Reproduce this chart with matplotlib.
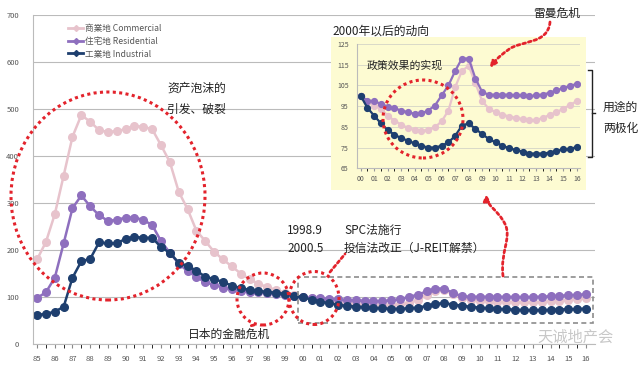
import numpy as np
import matplotlib
matplotlib.use("Agg")
import matplotlib.pyplot as plt
from matplotlib.patches import Ellipse, Rectangle, FancyArrowPatch
from matplotlib.path import Path
from matplotlib.lines import Line2D

plt.rcParams['font.family'] = ['Noto Sans CJK SC', 'DejaVu Sans']

# ---------------- data (semiannual, 1985.0 .. 2016.0) ----------------
years = np.arange(1985.0, 2016.01, 0.5)

commercial_pre = [180, 217, 276, 358, 441, 487, 473, 455, 451, 453, 457, 464, 462, 457, 423,
                  387, 324, 287, 241, 219, 196, 180, 165, 150, 138, 128, 121, 115, 109, 104]
residential_pre = [98, 110, 141, 214, 289, 316, 293, 274, 262, 264, 269, 269, 264, 253, 219,
                   194, 171, 155, 143, 131, 126, 120, 116, 113, 111, 110, 109, 107, 105, 102]
industrial_pre = [62, 64, 69, 79, 141, 176, 181, 216, 214, 214, 224, 228, 226, 226, 206,
                  194, 173, 166, 156, 143, 138, 132, 124, 119, 115, 113, 111, 109, 107, 103]

commercial_post = [100, 96.9, 95.3, 93.7, 90.4, 88.0, 86.1, 84.4, 83.5, 83.2, 83.5, 84.8, 87.7,
                   92.9, 104.2, 112.0, 114.5, 106.0, 97.4, 93.7, 92.1, 90.9, 90.0, 89.3, 88.8,
                   88.3, 88.3, 89.3, 90.8, 92.1, 93.7, 95.6, 97.4]
residential_post = [100, 97.7, 97.4, 96.1, 94.8, 94.0, 92.9, 92.1, 91.3, 91.5, 92.9, 95.3, 100.2,
                    105.0, 112.0, 118.0, 118.0, 108.3, 101.8, 100.5, 100.5, 100.5, 100.5, 100.2,
                    100.2, 99.8, 100.2, 100.6, 101.5, 102.6, 103.7, 104.7, 105.8]
industrial_post = [100, 94.2, 90.4, 86.7, 83.5, 81.2, 79.6, 78.3, 77.0, 75.9, 75.0, 75.0, 75.9,
                   77.5, 80.7, 85.6, 86.7, 84.0, 81.5, 79.1, 77.5, 75.9, 74.7, 73.8, 73.1,
                   72.1, 72.1, 72.1, 72.6, 73.4, 74.1, 74.2, 75.4]

commercial = commercial_pre + commercial_post
residential = residential_pre + residential_post
industrial = industrial_pre + industrial_post

series_labels = ['商業地 Commercial', '住宅地 Residential', '工業地 Industrial']
year_ticks = list(range(1985, 2017))
year_labels = ['%02d' % (y % 100) for y in year_ticks]
main_yticks = [0, 100, 200, 300, 400, 500, 600, 700]
inset_years = years[years >= 2000]
inset_yticks = [65, 75, 85, 95, 105, 115, 125]
inset_labels = ['%02d' % (y % 100) for y in range(2000, 2017)]

c_com = '#E7C3CC'
c_res = '#8E6FBE'
c_ind = '#1E3F6F'
red = '#E3232C'
gray_txt = '#555555'

W, H = 640, 365
fig = plt.figure(figsize=(6.4, 3.65), dpi=100)


def fx(x):
    return x / W


def fy(y):
    return 1 - y / H


# ---------------- main axes ----------------
ax = fig.add_axes([fx(33), fy(344), fx(595) - fx(33), fy(15) - fy(344)])
ax.set_xlim(1984.77, 2016.51)
ax.set_ylim(0, 700)
for vals, col in [(commercial, c_com), (residential, c_res), (industrial, c_ind)]:
    ax.plot(years, vals, '-o', color=col, lw=1.8, ms=5.5, mec=col, mfc=col)
ax.set_yticks(main_yticks)
ax.set_xticks(year_ticks)
ax.set_xticklabels(year_labels)
ax.set_xticks(years, minor=True)
ax.tick_params(axis='both', labelsize=5.5, colors='#888888', labelcolor=gray_txt)
ax.tick_params(axis='x', which='both', direction='out', length=3, pad=5)
ax.tick_params(axis='y', length=0, pad=10)
ax.grid(axis='y', color='#BBBBBB', lw=0.8)
ax.set_axisbelow(True)
for s in ['top', 'right']:
    ax.spines[s].set_visible(False)
for s in ['left', 'bottom']:
    ax.spines[s].set_color('#BBBBBB')

handles = [Line2D([0], [0], color=c, lw=2, marker='D', ms=3) for c in (c_com, c_res, c_ind)]
ax.legend(handles, series_labels, loc='upper left', bbox_to_anchor=(fx(60), fy(16)),
          bbox_transform=fig.transFigure, frameon=False, fontsize=6.2, labelspacing=0.45,
          handlelength=1.8, handletextpad=0.2, labelcolor=gray_txt)

# ---------------- inset ----------------
fig.patches.append(Rectangle((fx(331), fy(190)), fx(586) - fx(331), fy(37) - fy(190),
                             transform=fig.transFigure, facecolor='#FDFBD2', edgecolor='none', zorder=1))
iax = fig.add_axes([fx(357), fy(168.3), fx(580) - fx(357), fy(44) - fy(168.3)])
iax.set_zorder(2)
iax.set_facecolor('#FDFBD2')
iax.set_xlim(1999.73, 2016.24)
iax.set_ylim(65, 125)
for vals, col in [(commercial_post, c_com), (residential_post, c_res), (industrial_post, c_ind)]:
    iax.plot(inset_years, vals, '-o', color=col, lw=1.6, ms=4.2, mec=col, mfc=col)
iax.set_yticks(inset_yticks)
iax.set_xticks(range(2000, 2017))
iax.set_xticklabels(inset_labels)
iax.set_xticks(np.arange(2000, 2016.01, 0.5), minor=True)
iax.tick_params(axis='both', labelsize=5, colors='#999999', labelcolor=gray_txt)
iax.tick_params(axis='x', which='both', direction='out', length=2, pad=3)
iax.tick_params(axis='y', length=0, pad=6)
iax.grid(axis='y', color='#D9D9C8', lw=0.7)
iax.set_axisbelow(True)
for s in ['top', 'right']:
    iax.spines[s].set_visible(False)
for s in ['left', 'bottom']:
    iax.spines[s].set_color('#BBBBBB')

# ---------------- annotations ----------------
dot = (0, (1, 1.1))


def ell(cx, cy, w, h, lw=2.2):
    fig.patches.append(Ellipse((fx(cx), fy(cy)), w / W, h / H, transform=fig.transFigure,
                               fill=False, ec=red, ls=dot, lw=lw, zorder=5))


ell(108, 196, 194, 208)
ell(263, 299, 52, 52)
ell(314, 298, 50, 53)
ell(423, 119, 80, 78, lw=2.2)


def dotted_path(pts, codes, arrow=False):
    verts = [(fx(x), fy(y)) for x, y in pts]
    p = Path(verts, codes)
    fa = FancyArrowPatch(path=p, transform=fig.transFigure, arrowstyle='-|>' if arrow else '-',
                         mutation_scale=9, color=red, lw=2.0, ls=dot, zorder=6)
    fig.patches.append(fa)


# small connectors
dotted_path([(254, 325), (250, 326)], [Path.MOVETO, Path.LINETO])
dotted_path([(330, 272), (345, 254)], [Path.MOVETO, Path.LINETO])
# arrow from dashed box up to inset
dotted_path([(503, 276), (500, 252), (512, 238), (505, 224), (498, 210), (487, 206), (486, 194)],
            [Path.MOVETO, Path.CURVE4, Path.CURVE4, Path.CURVE4, Path.CURVE4, Path.CURVE4, Path.CURVE4],
            arrow=True)
# Lehman arrow
dotted_path([(550, 22), (548, 45), (520, 40), (508, 50), (498, 57), (494, 62), (490, 68)],
            [Path.MOVETO, Path.CURVE4, Path.CURVE4, Path.CURVE4, Path.CURVE4, Path.CURVE4, Path.CURVE4],
            arrow=True)

# dashed gray box
fig.patches.append(Rectangle((fx(298), fy(323)), fx(593) - fx(298), fy(277) - fy(323),
                             transform=fig.transFigure, fill=False, ec='#8C8C8C', ls=(0, (3, 2)),
                             lw=1.2, zorder=4))

# bracket
bx = 592
fig.lines.append(Line2D([fx(bx - 4), fx(bx), fx(bx), fx(bx - 4)], [fy(70), fy(70), fy(157), fy(157)],
                        transform=fig.transFigure, color='#222222', lw=1.0))
fig.lines.append(Line2D([fx(bx), fx(bx + 3)], [fy(113), fy(113)], transform=fig.transFigure,
                        color='#222222', lw=1.0))

tk = dict(color='#222222', fontsize=8.5, va='center', ha='left')
fig.text(fx(167), fy(88), '资产泡沫的', **tk)
fig.text(fx(167), fy(109), '引发、破裂', **tk)
fig.text(fx(188), fy(334), '日本的金融危机', **tk)
fig.text(fx(287), fy(230), '1998.9', **tk)
fig.text(fx(344), fy(230), 'SPC法施行', **tk)
fig.text(fx(287), fy(248), '2000.5', **tk)
fig.text(fx(344), fy(248), '投信法改正（J-REIT解禁）', **tk)
fig.text(fx(533), fy(13), '雷曼危机', **tk)
fig.text(fx(603), fy(107), '用途的', **tk)
fig.text(fx(603), fy(128), '两极化', **tk)
fig.text(fx(332), fy(31), '2000年以后的动向', **tk)
t = fig.text(fx(367), fy(65), '政策效果的实现', color='#222222', fontsize=7.8, va='center', ha='left')
t.set_zorder(7)
fig.text(fx(614), fy(337), '天诚地产会', color='#C8C8C8', fontsize=11, va='center', ha='right')

fig.savefig('out.png', dpi=100)
